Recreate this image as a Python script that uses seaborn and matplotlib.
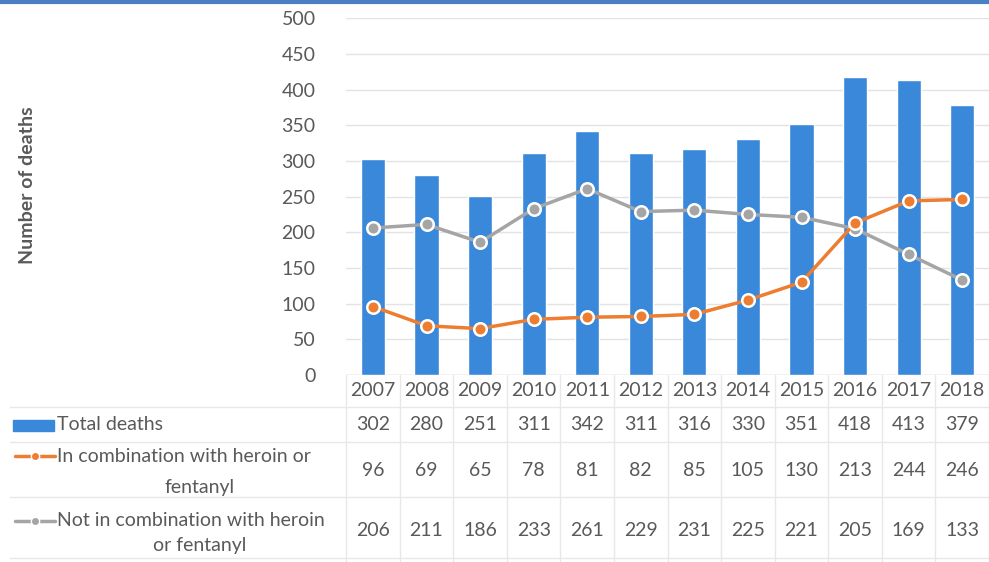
import numpy as np
import pandas as pd
import seaborn as sns
import matplotlib.pyplot as plt
import matplotlib.transforms as mtransforms
from matplotlib.lines import Line2D
from matplotlib.patches import Rectangle

years = ['2007', '2008', '2009', '2010', '2011', '2012', '2013', '2014', '2015', '2016', '2017', '2018']
total_deaths = [302, 280, 251, 311, 342, 311, 316, 330, 351, 418, 413, 379]
with_heroin = [96, 69, 65, 78, 81, 82, 85, 105, 130, 213, 244, 246]
without_heroin = [206, 211, 186, 233, 261, 229, 231, 225, 221, 205, 169, 133]

df = pd.DataFrame({'year': years, 'total': total_deaths,
                   'with': with_heroin, 'without': without_heroin})

sns.set_style('white')
plt.rcParams['font.family'] = ['Lato', 'DejaVu Sans']

blue = '#3a88da'
orange = '#ed7d31'
grey = '#a5a5a5'
txt = '#595959'

fig = plt.figure(figsize=(9.89, 5.62), dpi=100)
ax = fig.add_axes([0.35, 0.3327, 0.65, 0.635])

sns.barplot(data=df, x='year', y='total', color=blue, width=0.45,
            saturation=1, ax=ax, zorder=2)
sns.pointplot(data=df, x='year', y='without', color=grey, ax=ax,
              markers='o', markersize=9, markeredgecolor='white',
              markeredgewidth=1.8, linewidth=2.5, zorder=4)
sns.pointplot(data=df, x='year', y='with', color=orange, ax=ax,
              markers='o', markersize=9, markeredgecolor='white',
              markeredgewidth=1.8, linewidth=2.5, zorder=5)

ax.set_xlim(-0.5, 11.5)
ax.set_ylim(0, 500)
ax.set_yticks(range(0, 501, 50))
ax.yaxis.grid(True, color='#e3e3e3', linewidth=1)
ax.set_axisbelow(True)
ax.tick_params(axis='y', length=0, pad=22, labelsize=14, labelcolor=txt)
ax.tick_params(axis='x', length=0, labelbottom=False)
ax.set_xlabel('')
ax.set_ylabel('')
for s in ['top', 'right', 'left', 'bottom']:
    ax.spines[s].set_visible(False)
ax.axhline(0, color='#d9d9d9', linewidth=1, zorder=1)

fig.text(0.028, 0.67, 'Number of deaths', rotation=90, fontsize=14,
         fontweight='bold', color=txt, ha='center', va='center')

# data table under the chart
tr = mtransforms.blended_transform_factory(ax.transData, fig.transFigure)
line_c = '#e8e8e8'
for i, y in enumerate(years):
    ax.text(i, 1 - 390 / 562, y, transform=tr, ha='center', va='center',
            fontsize=14, color=txt, clip_on=False)
    ax.text(i, 1 - 425 / 562, str(total_deaths[i]), transform=tr, ha='center',
            va='center', fontsize=14, color=txt, clip_on=False)
    ax.text(i, 1 - 470 / 562, str(with_heroin[i]), transform=tr, ha='center',
            va='center', fontsize=14, color=txt, clip_on=False)
    ax.text(i, 1 - 531 / 562, str(without_heroin[i]), transform=tr, ha='center',
            va='center', fontsize=14, color=txt, clip_on=False)

for k in range(13):
    fig.add_artist(Line2D([k - 0.5, k - 0.5], [1 - 375 / 562, 0], transform=tr,
                          color=line_c, linewidth=1))
for yy in [407, 442, 497, 558]:
    fig.add_artist(Line2D([10 / 989, 1], [1 - yy / 562] * 2,
                          transform=fig.transFigure, color=line_c, linewidth=1))

# row labels with legend keys
fig.add_artist(Rectangle((13 / 989, 1 - 431 / 562), 41 / 989, 11 / 562,
                         transform=fig.transFigure, color=blue))
fig.text(57 / 989, 1 - 425 / 562, 'Total deaths', fontsize=14, color=txt,
         va='center', ha='left')
fig.add_artist(Line2D([15 / 989, 55 / 989], [1 - 456 / 562] * 2,
                      transform=fig.transFigure, color=orange, linewidth=2.5))
fig.add_artist(Line2D([35 / 989], [1 - 456 / 562], transform=fig.transFigure,
                      color=orange, marker='o', markersize=6,
                      markeredgecolor='white', markeredgewidth=1))
fig.text(57 / 989, 1 - 456 / 562, 'In combination with heroin or', fontsize=14,
         color=txt, va='center', ha='left')
fig.text(200 / 989, 1 - 487 / 562, 'fentanyl', fontsize=14, color=txt,
         va='center', ha='center')
fig.add_artist(Line2D([15 / 989, 55 / 989], [1 - 521 / 562] * 2,
                      transform=fig.transFigure, color=grey, linewidth=2.5))
fig.add_artist(Line2D([35 / 989], [1 - 521 / 562], transform=fig.transFigure,
                      color=grey, marker='o', markersize=6,
                      markeredgecolor='white', markeredgewidth=1))
fig.text(57 / 989, 1 - 521 / 562, 'Not in combination with heroin', fontsize=14,
         color=txt, va='center', ha='left')
fig.text(200 / 989, 1 - 546 / 562, 'or fentanyl', fontsize=14, color=txt,
         va='center', ha='center')

# thin blue frame line at top
fig.add_artist(Line2D([0, 1], [0.997, 0.997], transform=fig.transFigure,
                      color='#4a7fc1', linewidth=3))

plt.savefig('out.png', dpi=100)
